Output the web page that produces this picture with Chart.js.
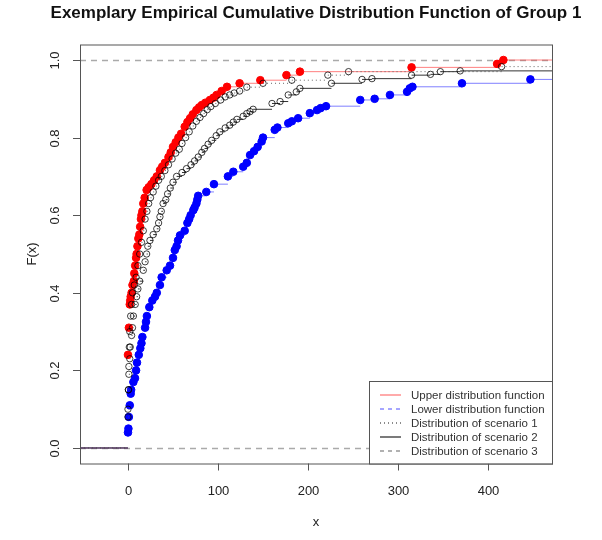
<!DOCTYPE html>
<html>
<head>
<meta charset="utf-8">
<title>Exemplary ECDF of Group 1</title>
<script src="https://cdn.jsdelivr.net/npm/chart.js@4.4.1/dist/chart.umd.min.js"></script>
<style>
  html, body { margin: 0; padding: 0; background: #fff; }
  #wrap { width: 602px; height: 540px; }
</style>
</head>
<body>
<div id="wrap"><canvas id="ecdfChart"></canvas></div>
<script>
"use strict";

// Upper distribution function (red)
const upperX = [0, 1, 2, 2.5, 3, 4, 5, 6.5, 7, 8, 9, 9.6, 10.5, 11.5, 12.6, 13.5, 14.4, 15, 16, 17,
  18.5, 20.7, 23, 26, 29, 32, 35.5, 38, 41, 45, 47.5, 50, 53, 56, 59, 63, 66, 69, 72, 76,
  79, 82, 86, 91, 95, 98.5, 104, 110, 124, 147, 176, 191, 315, 410, 417];
const upperF = [0.24, 0.31, 0.37, 0.38, 0.39, 0.40, 0.42, 0.43, 0.45, 0.47, 0.49, 0.50, 0.52, 0.54, 0.55, 0.57, 0.59, 0.60, 0.61, 0.63,
  0.645, 0.665, 0.672, 0.68, 0.69, 0.70, 0.716, 0.725, 0.735, 0.75, 0.762, 0.776, 0.788, 0.80, 0.81, 0.828, 0.84, 0.85, 0.86, 0.871,
  0.878, 0.884, 0.89, 0.897, 0.903, 0.91, 0.92, 0.931, 0.94, 0.948, 0.961, 0.97, 0.981, 0.99, 1.0];

// Lower distribution function (blue)
const lowerX = [0, 0.5, 1, 2, 3, 3.5, 6, 7.8, 9, 10, 12, 13.7, 15, 16, 19, 20, 21, 23.7, 27, 30,
  32, 35.5, 37.4, 43, 46.7, 50, 52, 54, 55.6, 57.8, 63, 66, 68, 69.6, 72.6, 74, 76, 77, 78, 87,
  95.5, 111, 117, 128, 132, 135.6, 140, 144, 148.5, 150, 163, 166, 178, 182, 189, 202, 210, 214, 220, 258,
  274, 291, 310, 313, 316, 371, 447];
const lowerF = [0.04, 0.05, 0.08, 0.11, 0.14, 0.15, 0.17, 0.18, 0.20, 0.22, 0.24, 0.257, 0.27, 0.286, 0.31, 0.325, 0.34, 0.363, 0.38, 0.39,
  0.40, 0.42, 0.44, 0.458, 0.47, 0.49, 0.51, 0.52, 0.535, 0.548, 0.56, 0.58, 0.59, 0.60, 0.613, 0.62, 0.63, 0.64, 0.65, 0.66,
  0.68, 0.70, 0.712, 0.725, 0.735, 0.755, 0.765, 0.776, 0.79, 0.80, 0.82, 0.826, 0.837, 0.842, 0.85, 0.863, 0.871, 0.876, 0.881, 0.897,
  0.90, 0.91, 0.918, 0.927, 0.931, 0.94, 0.95];

// Scenario 1 (black circles, dotted)
const scen1X = [0, 0.5, 1, 1.5, 2, 3, 4, 5, 7, 9, 11, 13, 15, 17, 19, 21, 23, 25, 28, 31,
  34, 37, 41, 45, 49, 53, 57, 60, 64, 68, 72, 76, 80, 84, 88, 92, 97, 103, 108, 113,
  118, 124, 132, 150, 182, 222, 245, 415];
const scen1F = [0.08, 0.15, 0.21, 0.26, 0.30, 0.34, 0.37, 0.40, 0.42, 0.44, 0.47, 0.50, 0.53, 0.56, 0.59, 0.61, 0.63, 0.645, 0.66, 0.675,
  0.69, 0.70, 0.715, 0.73, 0.745, 0.76, 0.77, 0.785, 0.80, 0.815, 0.83, 0.842, 0.852, 0.862, 0.872, 0.88, 0.888, 0.897, 0.905, 0.91,
  0.915, 0.92, 0.93, 0.94, 0.948, 0.961, 0.97, 0.983];

// Scenario 2 (black circles, solid)
const scen2X = [0, 0.5, 1, 2, 2.5, 4, 5, 6, 8, 9.6, 11, 13, 17, 19, 20.7, 22, 24.4, 28, 32, 34,
  35.5, 37, 39, 42, 44, 47, 50, 54, 60, 65, 70, 74, 78, 82, 85, 89, 93, 98, 102, 108,
  113, 117, 121, 128, 132, 135.6, 139, 160, 169, 178, 187, 191, 226, 260, 271, 315, 336, 347, 369];
const scen2F = [0.10, 0.15, 0.19, 0.23, 0.26, 0.29, 0.31, 0.34, 0.37, 0.39, 0.41, 0.43, 0.458, 0.48, 0.50, 0.52, 0.535, 0.55, 0.565, 0.58,
  0.596, 0.61, 0.63, 0.64, 0.655, 0.67, 0.685, 0.70, 0.71, 0.72, 0.73, 0.74, 0.75, 0.762, 0.772, 0.783, 0.793, 0.805, 0.815, 0.825,
  0.832, 0.84, 0.847, 0.855, 0.862, 0.867, 0.873, 0.888, 0.893, 0.91, 0.918, 0.927, 0.94, 0.95, 0.952, 0.961, 0.963, 0.97, 0.972];

const xTicks = [0, 100, 200, 300, 400];
const yTicks = [0, 0.2, 0.4, 0.6, 0.8, 1.0];
const yTickLabels = ["0.0", "0.2", "0.4", "0.6", "0.8", "1.0"];
const refLevels = [0, 1];
const xRange = [-53.3, 471];
const yRange = [-0.04, 1.04];

const legendLabels = [
  "Upper distribution function",
  "Lower distribution function",
  "Distribution of scenario 1",
  "Distribution of scenario 2",
  "Distribution of scenario 3"
];
const legendStyles = [
  { color: "rgba(255,70,70,0.7)", dash: [] },
  { color: "rgba(60,60,255,0.7)", dash: [4, 4] },
  { color: "#666", dash: [1, 3] },
  { color: "#333", dash: [] },
  { color: "#888", dash: [4, 4] }
];

const FONT = "'Liberation Sans', Arial, Helvetica, sans-serif";

function toPoints(xs, fs) {
  return xs.map((x, i) => ({ x: x, y: fs[i] }));
}

// horizontal pieces only, like plot.ecdf with verticals = FALSE
function toSteps(xs, fs) {
  const out = [{ x: xRange[0], y: 0 }, { x: xs[0], y: 0 }, { x: xs[0], y: null }];
  for (let i = 0; i < xs.length; i++) {
    const next = i < xs.length - 1 ? xs[i + 1] : xRange[1];
    out.push({ x: xs[i], y: fs[i] }, { x: next, y: fs[i] }, { x: next, y: null });
  }
  return out;
}

function stepSet(xs, fs, color, dash, order) {
  return {
    data: toSteps(xs, fs), showLine: true, spanGaps: false,
    borderColor: color, borderWidth: 1, borderDash: dash,
    pointRadius: 0, order: order
  };
}

function pointSet(xs, fs, fill, stroke, radius, order) {
  return {
    data: toPoints(xs, fs), showLine: false,
    backgroundColor: fill, borderColor: stroke, borderWidth: 1,
    pointRadius: radius, order: order
  };
}

// R style frame, axes, titles and legend
const rFrame = {
  id: "rFrame",
  beforeDraw(chart) {
    const ctx = chart.ctx;
    ctx.save();
    ctx.fillStyle = "#fff";
    ctx.fillRect(0, 0, chart.width, chart.height);
    ctx.restore();
  },
  beforeDatasetsDraw(chart) {
    const ctx = chart.ctx;
    const area = chart.chartArea;
    const ys = chart.scales.y;
    ctx.save();
    ctx.strokeStyle = "#aaa";
    ctx.lineWidth = 1.3;
    ctx.setLineDash([6, 5]);
    refLevels.forEach(v => {
      const py = Math.round(ys.getPixelForValue(v)) + 0.5;
      ctx.beginPath();
      ctx.moveTo(area.left, py);
      ctx.lineTo(area.right, py);
      ctx.stroke();
    });
    ctx.restore();
  },
  afterDraw(chart) {
    const ctx = chart.ctx;
    const area = chart.chartArea;
    const xs = chart.scales.x;
    const ys = chart.scales.y;
    ctx.save();

    // box
    ctx.strokeStyle = "#555";
    ctx.lineWidth = 1;
    ctx.setLineDash([]);
    ctx.strokeRect(area.left + 0.5, area.top + 0.5, area.right - area.left, area.bottom - area.top);

    // x axis
    ctx.fillStyle = "#222";
    ctx.font = "13px " + FONT;
    ctx.textAlign = "center";
    ctx.textBaseline = "middle";
    xTicks.forEach(v => {
      const px = Math.round(xs.getPixelForValue(v)) + 0.5;
      ctx.beginPath();
      ctx.moveTo(px, area.bottom);
      ctx.lineTo(px, area.bottom + 7);
      ctx.stroke();
      ctx.fillText(String(v), px, area.bottom + 28);
    });

    // y axis
    yTicks.forEach((v, i) => {
      const py = Math.round(ys.getPixelForValue(v)) + 0.5;
      ctx.beginPath();
      ctx.moveTo(area.left, py);
      ctx.lineTo(area.left - 7, py);
      ctx.stroke();
      ctx.save();
      ctx.translate(area.left - 25, py);
      ctx.rotate(-Math.PI / 2);
      ctx.fillText(yTickLabels[i], 0, 0);
      ctx.restore();
    });

    // axis titles
    const midX = (area.left + area.right) / 2;
    const midY = (area.top + area.bottom) / 2;
    ctx.fillText("x", midX, area.bottom + 59);
    ctx.save();
    ctx.translate(area.left - 48, midY);
    ctx.rotate(-Math.PI / 2);
    ctx.fillText("F(x)", 0, 0);
    ctx.restore();

    // main title
    ctx.fillStyle = "#111";
    ctx.font = "bold 17px " + FONT;
    ctx.fillText("Exemplary Empirical Cumulative Distribution Function of Group 1", midX, 13);

    // legend, bottom right
    const boxL = 369.5, boxT = 381.5;
    ctx.fillStyle = "#fff";
    ctx.fillRect(boxL, boxT, area.right - boxL, area.bottom - boxT);
    ctx.strokeStyle = "#555";
    ctx.strokeRect(boxL, boxT, area.right - boxL + 0.5, area.bottom - boxT + 0.5);
    ctx.font = "11.5px " + FONT;
    ctx.textAlign = "left";
    legendLabels.forEach((label, i) => {
      const rowY = boxT + 13 + i * 14;
      const st = legendStyles[i];
      ctx.strokeStyle = st.color;
      ctx.setLineDash(st.dash);
      ctx.lineWidth = 1.3;
      ctx.beginPath();
      ctx.moveTo(380, rowY + 0.5);
      ctx.lineTo(401, rowY + 0.5);
      ctx.stroke();
      ctx.setLineDash([]);
      ctx.fillStyle = "#333";
      ctx.fillText(label, 411, rowY + 1);
    });

    ctx.restore();
  }
};

const ecdfChart = new Chart(document.getElementById("ecdfChart"), {
  type: "scatter",
  data: {
    datasets: [
      stepSet(upperX, upperF, "rgba(255,60,60,0.65)", [], 9),
      pointSet(upperX, upperF, "#ff0000", "#ff0000", 3.8, 8),
      stepSet(lowerX, lowerF, "rgba(60,60,255,0.65)", [], 7),
      pointSet(lowerX, lowerF, "#0000ff", "#0000ff", 3.8, 6),
      stepSet(scen1X, scen1F, "#666", [1, 3], 5),
      pointSet(scen1X, scen1F, "rgba(0,0,0,0)", "rgba(0,0,0,0.75)", 3.2, 4),
      stepSet(scen2X, scen2F, "#333", [], 3),
      pointSet(scen2X, scen2F, "rgba(0,0,0,0)", "rgba(0,0,0,0.75)", 3.2, 2)
    ]
  },
  options: {
    responsive: true,
    maintainAspectRatio: false,
    animation: false,
    layout: { padding: { left: 80, right: 50, top: 44.5, bottom: 76.5 } },
    scales: {
      x: { type: "linear", min: xRange[0], max: xRange[1], display: false },
      y: { type: "linear", min: yRange[0], max: yRange[1], display: false }
    },
    plugins: {
      legend: { display: false },
      tooltip: { enabled: false }
    }
  },
  plugins: [rFrame]
});
</script>
</body>
</html>
